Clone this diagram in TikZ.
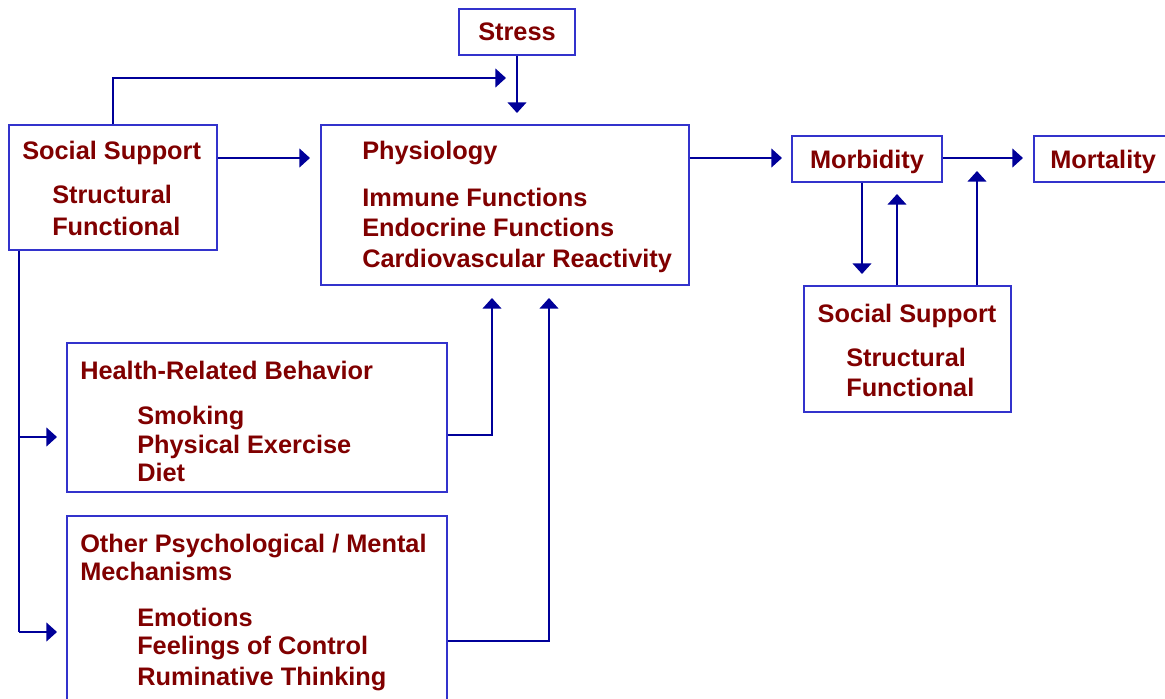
\documentclass[tikz,border=0pt]{standalone}
\usepackage{fontspec}
\setmainfont{Liberation Sans}
\usetikzlibrary{arrows.meta,fit}
\definecolor{txtred}{HTML}{800000}
\definecolor{lineblue}{HTML}{000099}
\definecolor{boxblue}{HTML}{3333CC}
\begin{document}
\begin{tikzpicture}[x=0.75pt,y=-0.75pt,
  box/.style={draw=boxblue,line width=1.1pt,inner sep=0pt,rectangle},
  txt/.style={text=txtred,font=\fontsize{19}{22}\selectfont\bfseries,inner sep=0pt},
  conn/.style={draw=lineblue,line width=1.7pt},
  arr/.style={conn,-{Triangle[length=8pt,width=14pt]}}]
\useasboundingbox (0,0) rectangle (1165,699);
% boxes
\node[box,fit={(459,9)(575,55)}] (stress) {};
\node[box,fit={(9,125)(217,250)}] (ssl) {};
\node[box,fit={(321,125)(689,285)}] (phys) {};
\node[box,fit={(792,136)(942,182)}] (morb) {};
\node[box,fit={(1034,136)(1175,182)}] (mort) {};
\node[box,fit={(804,286)(1011,412)}] (ssr) {};
\node[box,fit={(67,343)(447,492)}] (hb) {};
\node[box,fit={(67,516)(447,710)}] (op) {};
% texts
\node[txt,anchor=base] (tstress) at (517,41) {Stress};
\node[txt,anchor=base west] (tss1) at (22,160) {Social Support};
\node[txt,anchor=base west] (tss2) at (52,204) {Structural};
\node[txt,anchor=base west] (tss3) at (52,235) {Functional};
\node[txt,anchor=base west] (tph1) at (362,160) {Physiology};
\node[txt,anchor=base west] (tph2) at (362,206) {Immune Functions};
\node[txt,anchor=base west] (tph3) at (362,236) {Endocrine Functions};
\node[txt,anchor=base west] (tph4) at (362,267) {Cardiovascular Reactivity};
\node[txt,anchor=base] (tmorb) at (867,168) {Morbidity};
\node[txt,anchor=base west] (tmort) at (1050,168) {Mortality};
\node[txt,anchor=base] (tsr1) at (907,322) {Social Support};
\node[txt,anchor=base west] (tsr2) at (846,366) {Structural};
\node[txt,anchor=base west] (tsr3) at (846,396) {Functional};
\node[txt,anchor=base west] (thb1) at (80,379) {Health-Related Behavior};
\node[txt,anchor=base west] (thb2) at (137,424) {Smoking};
\node[txt,anchor=base west] (thb3) at (137,453) {Physical Exercise};
\node[txt,anchor=base west] (thb4) at (137,481) {Diet};
\node[txt,anchor=base west] (top1) at (80,552) {Other Psychological / Mental};
\node[txt,anchor=base west] (top2) at (80,580) {Mechanisms};
\node[txt,anchor=base west] (top3) at (137,626) {Emotions};
\node[txt,anchor=base west] (top4) at (137,654) {Feelings of Control};
\node[txt,anchor=base west] (top5) at (137,685) {Ruminative Thinking};
% connector coordinates
\coordinate (t1) at (517,113);
\coordinate (t2) at (506,78);
\coordinate (t3) at (310,158);
\coordinate (t4) at (782,158);
\coordinate (t5) at (1023,158);
\coordinate (t6) at (862,274);
\coordinate (t7) at (897,194);
\coordinate (t8) at (977,171);
\coordinate (L1) at (19,437);
\coordinate (L2) at (19,632);
\coordinate (t9) at (57,437);
\coordinate (t10) at (57,632);
\coordinate (h1) at (492,435);
\coordinate (t11) at (492,298);
\coordinate (o1) at (549,641);
\coordinate (t12) at (549,298);
% connectors
\draw[arr] (stress.south) -- (t1);
\draw[arr] (ssl.north) |- (t2);
\draw[arr] (t3 -| ssl.east) -- (t3);
\draw[arr] (t4 -| phys.east) -- (t4);
\draw[arr] (t5 -| morb.east) -- (t5);
\draw[arr] (t6 |- morb.south) -- (t6);
\draw[arr] (t7 |- ssr.north) -- (t7);
\draw[arr] (t8 |- ssr.north) -- (t8);
\draw[conn] (L1 |- ssl.south) -- (L2);
\draw[arr] (L1) -- (t9);
\draw[arr] (L2) -- (t10);
\draw[arr] (h1 -| hb.east) -- (h1) -- (t11);
\draw[arr] (o1 -| op.east) -- (o1) -- (t12);
\end{tikzpicture}
\end{document}
